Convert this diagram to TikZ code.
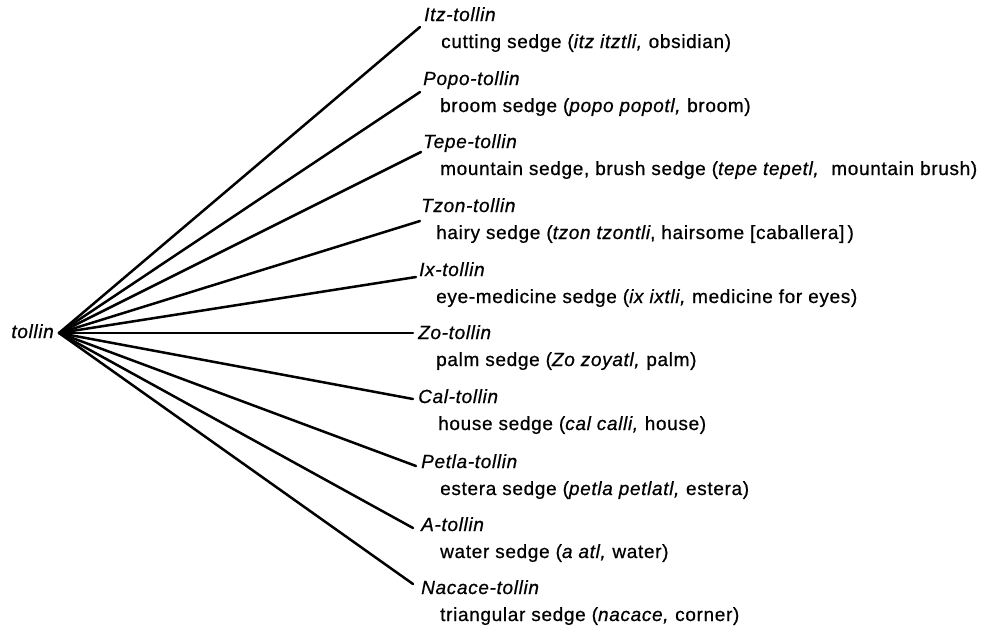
\documentclass[tikz,border=0pt]{standalone}
\usepackage{fontspec}
\setmainfont{Liberation Sans}[LetterSpace=3.5,FakeBold=0.7]
\usepackage{tikz}

\begin{document}
\begin{tikzpicture}[line cap=round,line join=round,x=1pt,y=-1pt,
  term/.style={font=\fontsize{19}{21}\selectfont\itshape,anchor=base west,inner sep=0pt},
  gloss/.style={font=\fontsize{19}{21}\selectfont,anchor=base west,inner sep=0pt},
  branch/.style={line width=2.5pt}]
\useasboundingbox (0,0) rectangle (1002,627);
\coordinate (hub) at (59,333);
\node (tollin) [term,anchor=base east] at (54,338) {tollin};
\node (itz) [term] at (424,21) {Itz-tollin};
\node (itzg) [gloss] at (441,48) {cutting sedge (\textit{itz itztli,} obsidian)};
\node (popo) [term] at (423,85) {Popo-tollin};
\node (popog) [gloss] at (440,112) {broom sedge (\textit{popo popotl,} broom)};
\node (tepe) [term] at (423,148) {Tepe-tollin};
\node (tepeg) [gloss] at (440,175) {mountain sedge, brush sedge (\textit{tepe tepetl,}\ \ mountain brush)};
\node (tzon) [term] at (421,212) {Tzon-tollin};
\node (tzong) [gloss] at (436,239) {hairy sedge (\textit{tzon tzontli}, hairsome [caballera]\,)};
\node (ix) [term] at (419,276) {Ix-tollin};
\node (ixg) [gloss] at (436,303) {eye-medicine sedge (\textit{ix ixtli,} medicine for eyes)};
\node (zo) [term] at (418,339) {Zo-tollin};
\node (zog) [gloss] at (436,366) {palm sedge (\textit{Zo zoyatl,} palm)};
\node (cal) [term] at (418,403) {Cal-tollin};
\node (calg) [gloss] at (438,430) {house sedge (\textit{cal calli,} house)};
\node (petla) [term] at (421,468) {Petla-tollin};
\node (petlag) [gloss] at (440,495) {estera sedge (\textit{petla petlatl,} estera)};
\node (a) [term] at (421,531) {A-tollin};
\node (ag) [gloss] at (440,558) {water sedge (\textit{a atl,} water)};
\node (nacace) [term] at (421,594) {Nacace-tollin};
\node (nacaceg) [gloss] at (440,621) {triangular sedge (\textit{nacace,} corner)};
% branch ends
\coordinate (e1) at (420,27);
\coordinate (e2) at (420,92);
\coordinate (e3) at (421,152);
\coordinate (e4) at (420,221);
\coordinate (e5) at (416,277);
\coordinate (e6) at (413,333);
\coordinate (e7) at (413,399);
\coordinate (e8) at (416,466);
\coordinate (e9) at (413,528);
\coordinate (e10) at (413,584);
\draw [branch] (hub)-- (e1);
\draw [branch] (hub)-- (e2);
\draw [branch] (hub)-- (e3);
\draw [branch] (hub)-- (e4);
\draw [branch] (hub)-- (e5);
\draw [branch] (hub)-- (e6);
\draw [branch] (hub)-- (e7);
\draw [branch] (hub)-- (e8);
\draw [branch] (hub)-- (e9);
\draw [branch] (hub)-- (e10);
\end{tikzpicture}
\end{document}
